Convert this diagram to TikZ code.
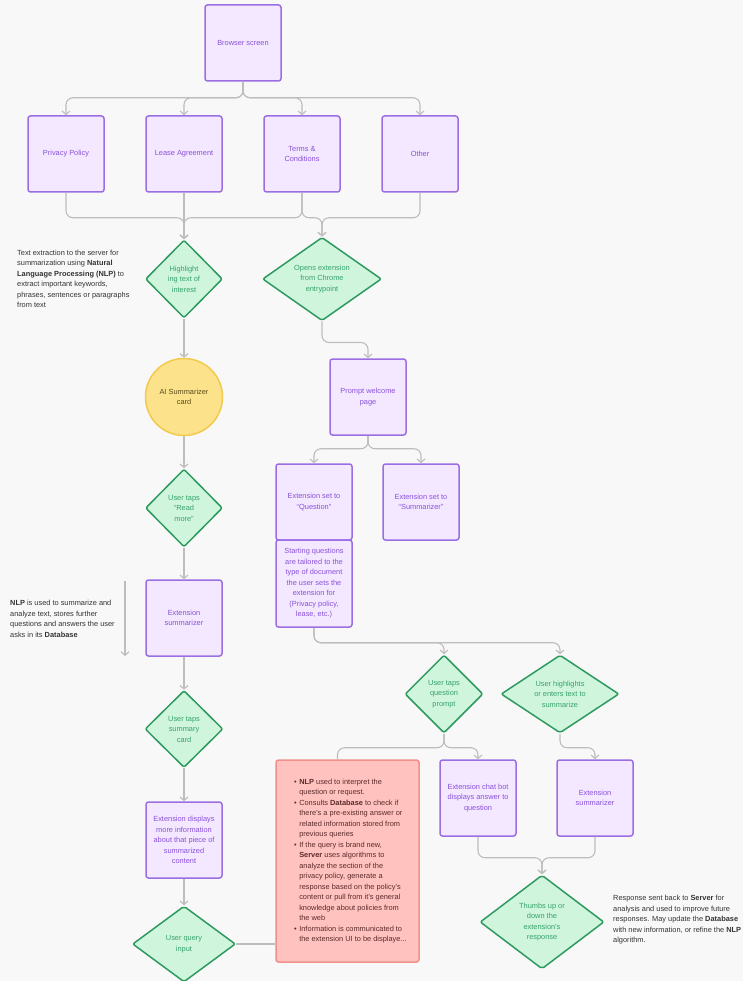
\documentclass[tikz,border=0pt]{standalone}
\usepackage{fontspec}
\setmainfont{Liberation Sans}
\usetikzlibrary{shapes.geometric,arrows.meta,calc}
\definecolor{bgcol}{HTML}{F8F8F8}
\definecolor{pfill}{HTML}{F3E8FF}
\definecolor{pborder}{HTML}{9B6FE3}
\definecolor{ptext}{HTML}{8A50DA}
\definecolor{gfill}{HTML}{CFF5DD}
\definecolor{gborder}{HTML}{2E9A5F}
\definecolor{gtext}{HTML}{35A36A}
\definecolor{yfill}{HTML}{FCE28A}
\definecolor{yborder}{HTML}{F2C94C}
\definecolor{ytext}{HTML}{5A4A1A}
\definecolor{rfill}{HTML}{FFC2BE}
\definecolor{rborder}{HTML}{F0908A}
\definecolor{rtext}{HTML}{5A2A2A}
\definecolor{conncol}{HTML}{BDBDBD}
\definecolor{notecol}{HTML}{333333}
\begin{document}
\begin{tikzpicture}[x=1pt,y=-1pt,
  boxfont/.style={font=\fontsize{7.4}{10.5}\selectfont},
  pbox/.style={boxfont, draw=pborder, fill=pfill, text=ptext, line width=1.5pt,
    rounded corners=2.5pt, minimum width=76pt, minimum height=76pt, align=center, inner sep=0pt},
  gdia/.style={boxfont, diamond, draw=gborder, fill=gfill, text=gtext, line width=1.5pt,
    rounded corners=2pt, align=center, inner sep=0pt},
  ycirc/.style={boxfont, circle, draw=yborder, fill=yfill, text=ytext, line width=1.5pt,
    minimum size=77pt, align=center, inner sep=0pt},
  rbox/.style={draw=rborder, fill=rfill, line width=1.5pt, rounded corners=2.5pt,
    minimum width=143pt, minimum height=202pt, inner sep=0pt},
  note/.style={boxfont, text=notecol, align=left, inner sep=0pt},
  conn/.style={draw=conncol, line width=1.1pt, rounded corners=7pt,
    -{Straight Barb[length=3.5pt,width=8pt]}},
  plain/.style={draw=conncol, line width=1.1pt, rounded corners=7pt}
]
\useasboundingbox[fill=bgcol] (0,0) rectangle (743,981);

% top
\node[pbox] (browser) at (243,43) {Browser screen};
\node[pbox] (pp) at (66,154) {Privacy Policy};
\node[pbox] (lease) at (184,154) {Lease Agreement};
\node[pbox] (tc) at (302,154) {Terms \&\\Conditions};
\node[pbox] (other) at (420,154) {Other};

% diamonds row
\node[gdia, minimum width=77pt, minimum height=78pt] (hl) at (184,279) {Highlight\\ing text of\\interest};
\node[gdia, minimum width=119pt, minimum height=78pt] (op) at (322,279) {Opens extension\\from Chrome\\entrypoint};

% left column
\node[ycirc] (aic) at (184,397) {AI Summarizer\\card};
\node[gdia, minimum width=77pt, minimum height=78pt] (rm) at (184,508) {User taps\\“Read\\more”};
\node[pbox] (es) at (184,618) {Extension\\summarizer};
\node[gdia, minimum width=78pt, minimum height=77pt] (sc) at (184,729) {User taps\\summary\\card};
\node[pbox] (ed) at (184,840) {Extension displays\\more information\\about that piece of\\summarized\\content};
\node[gdia, minimum width=103pt, minimum height=76pt] (uq) at (184,944) {User query\\input};

% right part
\node[pbox] (prompt) at (368,397) {Prompt welcome\\page};
\node[pbox] (q) at (314,502) {Extension set to\\“Question”};
\node[pbox] (s) at (421,502) {Extension set to\\“Summarizer”};
\node[pbox, minimum height=87pt] (start) at (314,583.5) {Starting questions\\are tailored to the\\type of document\\the user sets the\\extension for\\(Privacy policy,\\lease, etc.)};
\node[gdia, minimum width=78pt, minimum height=78pt] (qp) at (444,694) {User taps\\question\\prompt};
\node[gdia, minimum width=118pt, minimum height=78pt] (uh) at (560,694) {User highlights\\or enters text to\\summarize};
\node[rbox] (red) at (347.5,861) {};
\node[boxfont, text=rtext, anchor=west, inner sep=0pt] (redtxt) at (294,861) {%
\begin{tabular}{@{}l@{\hspace{2.5pt}}l@{}}
\textbullet & \textbf{NLP} used to interpret the\\
 & question or request.\\
\textbullet & Consults \textbf{Database} to check if\\
 & there's a pre-existing answer or\\
 & related information stored from\\
 & previous queries\\
\textbullet & If the query is brand new,\\
 & \textbf{Server} uses algorithms to\\
 & analyze the section of the\\
 & privacy policy, generate a\\
 & response based on the policy's\\
 & content or pull from it's general\\
 & knowledge about policies from\\
 & the web\\
\textbullet & Information is communicated to\\
 & the extension UI to be displaye...
\end{tabular}};
\node[pbox] (chat) at (478,798) {Extension chat bot\\displays answer to\\question};
\node[pbox] (sum2) at (595,798) {Extension\\summarizer};
\node[gdia, minimum width=124pt, minimum height=94pt] (th) at (542,922) {Thumbs up or\\down the\\extension's\\response};

% notes
\node[note, anchor=west] (n1) at (17,279) {Text extraction to the server for\\summarization using \textbf{Natural}\\\textbf{Language Processing (NLP)} to\\extract important keywords,\\phrases, sentences or paragraphs\\from text};
\node[note, anchor=west] (n2) at (10,619) {\textbf{NLP} is used to summarize and\\analyze text, stores further\\questions and answers the user\\asks in its \textbf{Database}};
\node[note, anchor=west] (n3) at (613,920) {Response sent back to \textbf{Server} for\\analysis and used to improve future\\responses. May update the \textbf{Database}\\with new information, or refine the \textbf{NLP}\\algorithm.};
\coordinate (a1) at (125,581);
\coordinate (a2) at (125,656);
\draw[conn] (a1) -- (a2);

% connectors top
\draw[conn] (browser.south) -- ++(0,16) -| (pp.north);
\draw[conn] (browser.south) -- ++(0,16) -| (lease.north);
\draw[conn] (browser.south) -- ++(0,16) -| (tc.north);
\draw[conn] (browser.south) -- ++(0,16) -| (other.north);
\draw[conn] (pp.south) -- ++(0,25) -| (hl.north);
\draw[conn] (lease.south) -- (hl.north);
\draw[conn] (tc.south) -- ++(0,25) -| (hl.north);
\draw[conn] (tc.south) -- ++(0,25) -| (op.north);
\draw[conn] (other.south) -- ++(0,25) -| (op.north);

% left chain
\draw[conn] (hl.south) -- (aic.north);
\draw[conn] (aic.south) -- (rm.north);
\draw[conn] (rm.south) -- (es.north);
\draw[conn] (es.south) -- (sc.north);
\draw[conn] (sc.south) -- (ed.north);
\draw[conn] (ed.south) -- (uq.north);
\draw[plain] (uq.east) -- (uq.east -| red.west);

% right chain
\draw[conn] (op.south) -- ++(0,21) -| (prompt.north);
\draw[conn] (prompt.south) -- ++(0,13) -| (q.north);
\draw[conn] (prompt.south) -- ++(0,13) -| (s.north);
\draw[conn] (start.south) -- ++(0,15) -| (qp.north);
\draw[conn] (start.south) -- ++(0,15) -| (uh.north);
\draw[plain] (qp.south) -- ++(0,14) -| ($(red.north)+(-10,0)$);
\draw[conn] (qp.south) -- ++(0,14) -| (chat.north);
\draw[conn] (uh.south) -- ++(0,14) -| (sum2.north);
\draw[conn] (chat.south) -- ++(0,21) -| (th.north);
\draw[conn] (sum2.south) -- ++(0,21) -| (th.north);
\end{tikzpicture}
\end{document}
